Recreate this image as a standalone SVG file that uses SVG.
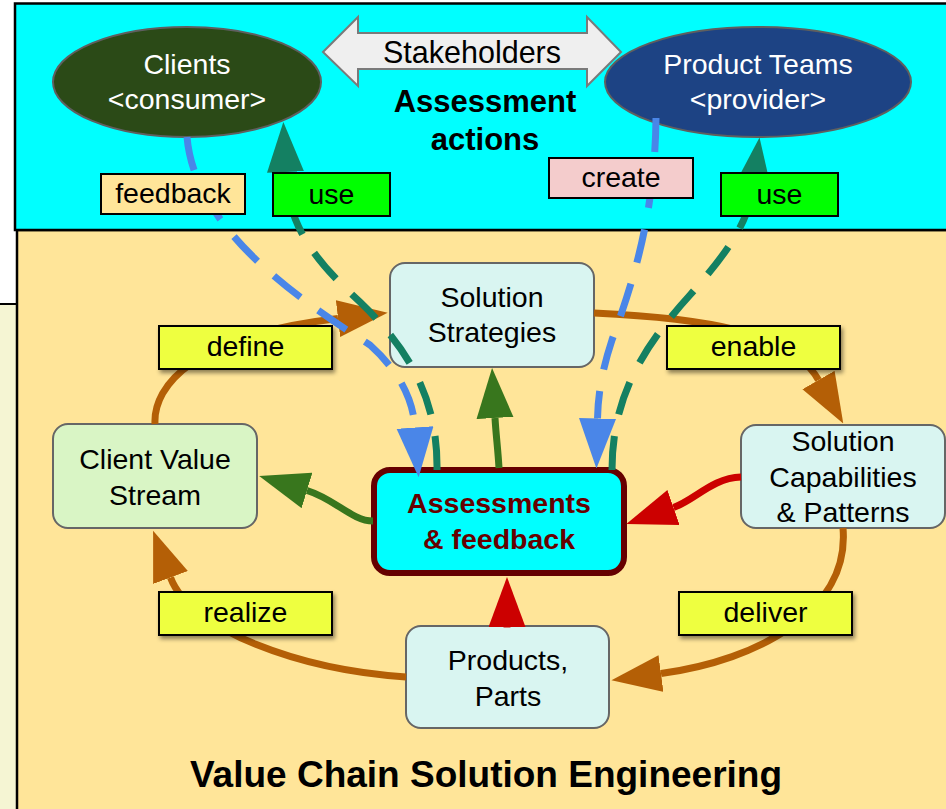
<svg xmlns="http://www.w3.org/2000/svg" width="946" height="809" viewBox="0 0 946 809">
<defs>
<style>
text{font-family:"Liberation Sans",Arial,sans-serif;text-anchor:middle;}
.t{font-size:28.5px;fill:#000;}
.w{font-size:28.5px;fill:#fff;}
.b{font-weight:bold;}
.node{fill:#d9f5f1;stroke:#666;stroke-width:2;}
.lbl{stroke:#000;stroke-width:2;}
.yl{fill:#eeff41;stroke:#000;stroke-width:2;filter:url(#sh);}
.c{fill:none;stroke-width:7;}
.brown{stroke:#b45f06;marker-end:url(#mBrown);}
.green{stroke:#38761d;marker-end:url(#mGreen);}
.red{stroke:#cc0000;marker-end:url(#mRed);}
.blue{stroke:#4a86e8;stroke-dasharray:34 22;marker-end:url(#mBlue);}
.teal{stroke:#148062;stroke-dasharray:34 22;marker-end:url(#mTeal);}
</style>
<filter id="sh" x="-10%" y="-20%" width="130%" height="160%">
<feDropShadow dx="2" dy="3" stdDeviation="2" flood-color="#000" flood-opacity="0.45"/>
</filter>
<marker id="mBrown" markerUnits="userSpaceOnUse" markerWidth="50" markerHeight="38" refX="0" refY="18.5" orient="auto"><path d="M0,0 L50,18.5 L0,37 z" fill="#b45f06"/></marker>
<marker id="mGreen" markerUnits="userSpaceOnUse" markerWidth="50" markerHeight="38" refX="0" refY="18.5" orient="auto"><path d="M0,0 L50,18.5 L0,37 z" fill="#38761d"/></marker>
<marker id="mRed" markerUnits="userSpaceOnUse" markerWidth="50" markerHeight="38" refX="0" refY="18.5" orient="auto"><path d="M0,0 L50,18.5 L0,37 z" fill="#cc0000"/></marker>
<marker id="mBlue" markerUnits="userSpaceOnUse" markerWidth="50" markerHeight="38" refX="0" refY="18.5" orient="auto"><path d="M0,0 L50,18.5 L0,37 z" fill="#4a86e8"/></marker>
<marker id="mTeal" markerUnits="userSpaceOnUse" markerWidth="50" markerHeight="38" refX="0" refY="18.5" orient="auto"><path d="M0,0 L50,18.5 L0,37 z" fill="#148062"/></marker>
</defs>

<rect x="0" y="0" width="946" height="809" fill="#fff"/>
<g id="panels">
<rect x="-5" y="304" width="22" height="515" fill="#f5f5d3" stroke="#000" stroke-width="2"/>
<rect x="17" y="230" width="940" height="590" fill="#ffe599" stroke="#000" stroke-width="2.5"/>
<rect x="15" y="3.5" width="940" height="226.5" fill="#00ffff" stroke="#000" stroke-width="2.5"/>
<text class="b" x="486" y="787" font-size="37">Value Chain Solution Engineering</text>
</g>

<g id="stakeholders">
<polygon points="323,52 358,17 358,33 587,33 587,17 621,52 587,86 587,69 358,69 358,86" fill="#efefef" stroke="#7a7a7a" stroke-width="2"/>
<text x="472" y="63" font-size="30.5">Stakeholders</text>
</g>
<g id="assessment-actions">
<text class="b" x="485" y="112" font-size="31">Assessment</text>
<text class="b" x="485" y="150" font-size="31">actions</text>
</g>

<g id="clients">
<ellipse cx="187" cy="82" rx="134" ry="55" fill="#2b4a17" stroke="#5f5f5f" stroke-width="2"/>
<text class="w" x="187" y="74">Clients</text>
<text class="w" x="187" y="109">&lt;consumer&gt;</text>
</g>
<g id="product-teams">
<ellipse cx="758" cy="82" rx="153" ry="55" fill="#1d4384" stroke="#5f5f5f" stroke-width="2"/>
<text class="w" x="758" y="74">Product Teams</text>
<text class="w" x="758" y="109">&lt;provider&gt;</text>
</g>

<g id="solution-strategies">
<rect class="node" x="390" y="263" width="204" height="104" rx="15"/>
<text class="t" x="492" y="307">Solution</text>
<text class="t" x="492" y="342">Strategies</text>
</g>
<g id="client-value-stream">
<rect class="node" x="53" y="424" width="204" height="104" rx="15" style="fill:#d9f5c5"/>
<text class="t" x="155" y="469">Client Value</text>
<text class="t" x="155" y="505">Stream</text>
</g>
<g id="solution-capabilities">
<rect class="node" x="741" y="425" width="204" height="103" rx="15"/>
<text class="t" x="843" y="451">Solution</text>
<text class="t" x="843" y="487">Capabilities</text>
<text class="t" x="843" y="522">&amp; Patterns</text>
</g>
<g id="products-parts">
<rect class="node" x="406" y="626" width="203" height="102" rx="15"/>
<text class="t" x="508" y="670">Products,</text>
<text class="t" x="508" y="706">Parts</text>
</g>
<g id="assessments-feedback">
<rect x="374" y="470" width="250" height="103" rx="16" fill="#00ffff" stroke="#660000" stroke-width="6"/>
<text class="b" x="499" y="513" font-size="28.5" fill="#660000">Assessments</text>
<text class="b" x="499" y="549" font-size="28.5" fill="#660000">&amp; feedback</text>
</g>

<g id="connectors">
<path class="c brown" d="M155,424 C153,385 195,335 338,318.5"/>
<path class="c brown" d="M594,313 C700,318 790,330 818.5,380"/>
<path class="c brown" d="M843,528 C850,610 760,660 661,673.5"/>
<path class="c brown" d="M406,677 C300,670 190,630 170.5,577.5"/>
<path class="c green" d="M373,521 C352,521 335,499 307,490.5"/>
<path class="c green" d="M499,468 C498,450 496,435 495,418"/>
<path class="c red" d="M741,477 C712,478 695,500 673.5,507.5"/>
<path class="c red" d="M507,627.5 L507,627"/>
<path class="c blue" d="M187,137 C195,230 300,300 370,345 C400,372 413,400 415,427.5"/>
<path class="c teal" d="M437,470 C438,400 410,350 360,302 C320,265 288,230 285.5,172"/>
<path class="c blue" d="M656,118 C655,220 630,290 612,340 C602,370 598,395 597.5,418.5"/>
<path class="c teal" d="M612,470 C612,400 640,350 690,295 C725,255 748,225 753,187"/>
</g>

<g id="labels">
<g id="lbl-feedback"><rect class="lbl" x="101" y="174" width="144" height="40" fill="#ffe599"/><text class="t" x="173" y="203">feedback</text></g>
<g id="lbl-use-clients"><rect class="lbl" x="273" y="173" width="117" height="43" fill="#00ff00"/><text class="t" x="331.5" y="204">use</text></g>
<g id="lbl-create"><rect class="lbl" x="549" y="158" width="144" height="40" fill="#f4cccc"/><text class="t" x="621" y="187">create</text></g>
<g id="lbl-use-teams"><rect class="lbl" x="721" y="173" width="117" height="43" fill="#00ff00"/><text class="t" x="779.5" y="204">use</text></g>
<g id="lbl-define"><rect class="yl" x="159" y="326" width="173" height="43"/><text class="t" x="245.5" y="356">define</text></g>
<g id="lbl-enable"><rect class="yl" x="667" y="326" width="173" height="43"/><text class="t" x="753.5" y="356">enable</text></g>
<g id="lbl-realize"><rect class="yl" x="159" y="592" width="173" height="43"/><text class="t" x="245.5" y="622">realize</text></g>
<g id="lbl-deliver"><rect class="yl" x="679" y="592" width="173" height="43"/><text class="t" x="765.5" y="622">deliver</text></g>
</g>
</svg>
